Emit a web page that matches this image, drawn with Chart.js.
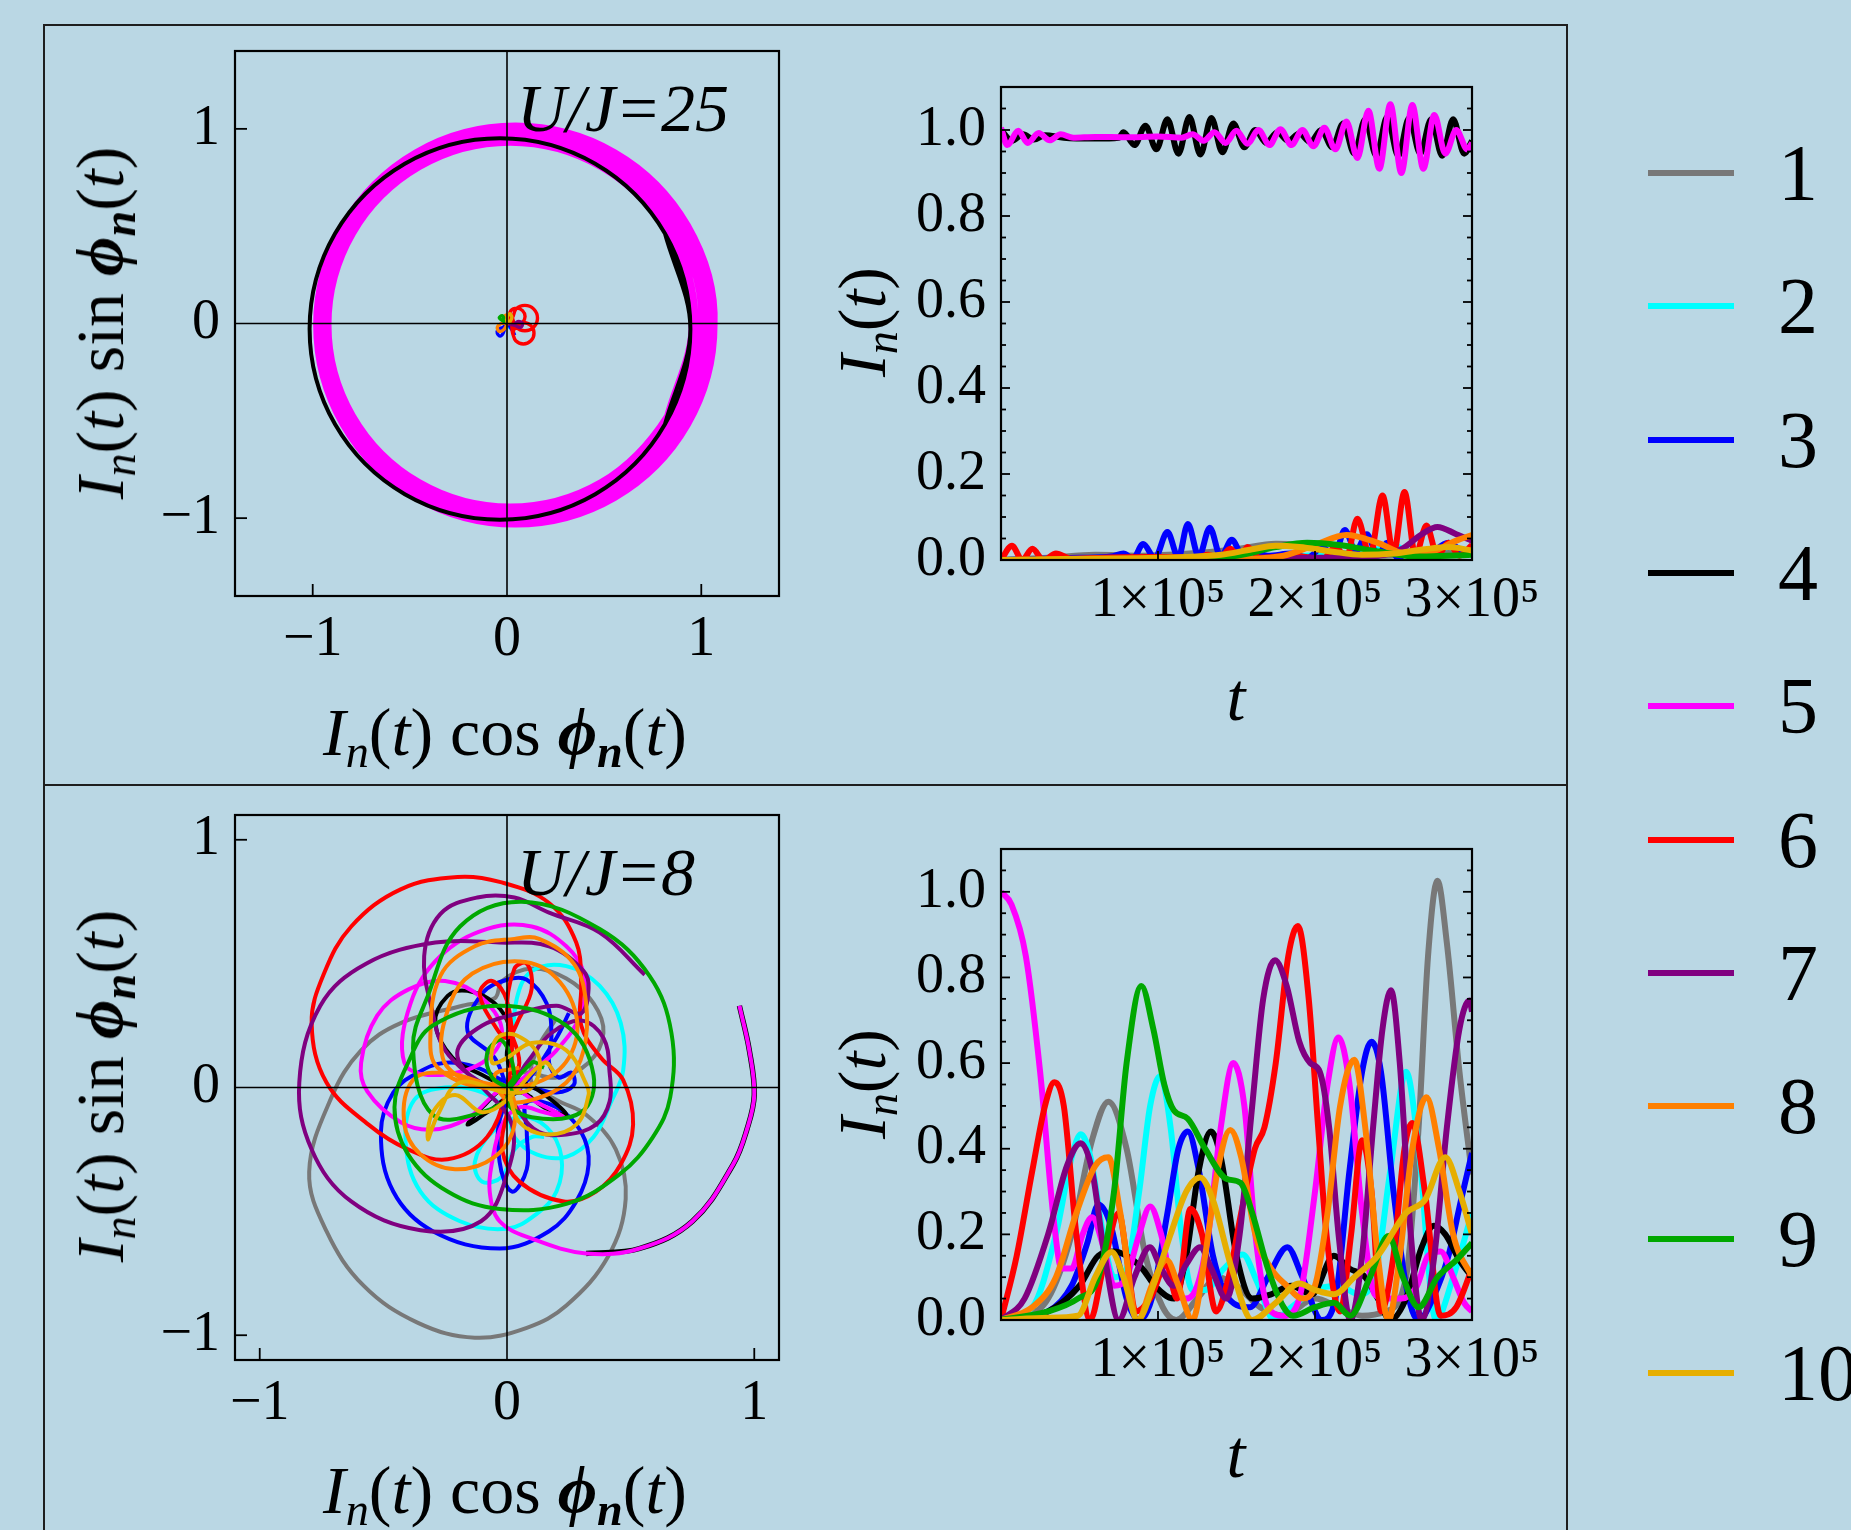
<!DOCTYPE html>
<html>
<head>
<meta charset="utf-8">
<script src="https://cdn.jsdelivr.net/npm/chart.js@4.4.1/dist/chart.umd.min.js"></script>
<style>
  html, body { margin: 0; padding: 0; }
  body {
    width: 1851px; height: 1530px; overflow: hidden; position: relative;
    background: #bad7e4; font-family: "Liberation Serif", "DejaVu Serif", serif; color: #000;
  }
  canvas { position: absolute; }
  .rule { position: absolute; background: #1e1e1e; }
  .ttl { position: absolute; white-space: nowrap; font-size: 68px; line-height: 1; transform: translate(-50%, -50%); }
  .ttl.rot { transform: translate(-50%, -50%) rotate(-90deg); }
  .ttl sub { font-size: 0.68em; vertical-align: -0.25em; line-height: 0; }
  .note { position: absolute; white-space: nowrap; font-style: italic; font-size: 68px; line-height: 1; transform: translateY(-50%); }
  .leg-line { position: absolute; left: 1648px; width: 86px; height: 6px; }
  .leg-txt { position: absolute; left: 1778px; font-size: 80px; line-height: 1; transform: translateY(-50%); }
</style>
</head>
<body>
<div class="rule" style="left:43px;top:24px;width:1525px;height:2px"></div>
<div class="rule" style="left:43px;top:24px;width:2px;height:1506px"></div>
<div class="rule" style="left:1566px;top:24px;width:2px;height:1506px"></div>
<div class="rule" style="left:43px;top:784px;width:1525px;height:2px"></div>

<canvas id="phase25"></canvas>
<canvas id="time25"></canvas>
<canvas id="phase8"></canvas>
<canvas id="time8"></canvas>

<div class="ttl rot" style="left:100px;top:323px"><i>I</i><sub><i>n</i></sub>(<i>t</i>) sin <b><i>ϕ</i></b><sub><b><i>n</i></b></sub>(<i>t</i>)</div>
<div class="ttl" style="left:505px;top:732px"><i>I</i><sub><i>n</i></sub>(<i>t</i>) cos <b><i>ϕ</i></b><sub><b><i>n</i></b></sub>(<i>t</i>)</div>
<div class="ttl rot" style="left:862px;top:322px"><i>I</i><sub><i>n</i></sub>(<i>t</i>)</div>
<div class="ttl" style="left:1236px;top:697px"><i>t</i></div>
<div class="ttl rot" style="left:100px;top:1086px"><i>I</i><sub><i>n</i></sub>(<i>t</i>) sin <b><i>ϕ</i></b><sub><b><i>n</i></b></sub>(<i>t</i>)</div>
<div class="ttl" style="left:505px;top:1490px"><i>I</i><sub><i>n</i></sub>(<i>t</i>) cos <b><i>ϕ</i></b><sub><b><i>n</i></b></sub>(<i>t</i>)</div>
<div class="ttl rot" style="left:862px;top:1084px"><i>I</i><sub><i>n</i></sub>(<i>t</i>)</div>
<div class="ttl" style="left:1236px;top:1454px"><i>t</i></div>
<div class="note" style="left:517px;top:108px">U/J=25</div>
<div class="note" style="left:517px;top:872px">U/J=8</div>

<div id="legend"></div>

<script>
// series names and colours (sites 1..10)
const siteLabels = ["1", "2", "3", "4", "5", "6", "7", "8", "9", "10"];
const siteColors = ["#787878", "#00ffff", "#0000ff", "#000000", "#ff00ff", "#ff0000", "#800080", "#ff8000", "#00a800", "#e6ae00"];

// tick values
const phase25Ticks = [-1, 0, 1];
const phase8Ticks = [-1, 0, 1];
const timeTicks = [100000, 200000, 300000];
const intensityTicks = [0, 0.2, 0.4, 0.6, 0.8, 1.0];
const intensityMinor = [0.05, 0.1, 0.15, 0.25, 0.3, 0.35, 0.45, 0.5, 0.55, 0.65, 0.7, 0.75, 0.85, 0.9, 0.95, 1.05];

// ---- U/J = 25 : I_n(t), [t, I] ----
const i25_1 = [[0,0],[30000,0.005],[60000,0.012],[90000,0.01],[120000,0.015],[150000,0.025],[175000,0.038],[190000,0.035],[210000,0.02],[240000,0.01],[270000,0.015],[300000,0.02]];
const i25_2 = [[0,0],[100000,0.003],[180000,0.008],[220000,0.015],[240000,0.025],[250000,0.035],[258000,0.02],[270000,0.01],[285000,0.03],[300000,0.02]];
const i25_3 = [[0,0],[50000,0.005],[70000,0.008],[78000,0.015],[84000,0.003],[90500,0.037],[98000,0.005],[106000,0.065],[113000,0.006],[119000,0.084],[126000,0.008],[133000,0.075],[140000,0.008],[147000,0.047],[154000,0.01],[160000,0.02],[170000,0.01],[185000,0.015],[195000,0.005],[205000,0.03],[212000,0.005],[219000,0.07],[226000,0.02],[233000,0.06],[240000,0.01],[246000,0.04],[253000,0.005],[260000,0.02],[270000,0.01],[285000,0.04],[295000,0.02],[300000,0.03]];
const i25_4 = [[0,1.0],[7000,0.975],[14000,0.99],[21000,0.978],[28000,0.988],[40000,0.982],[60000,0.98],[75000,0.982],[78000,0.995],[85000,0.965],[92000,1.01],[99000,0.955],[106000,1.025],[113000,0.945],[120000,1.03],[127000,0.943],[134000,1.028],[141000,0.948],[148000,1.015],[155000,0.96],[162000,1.0],[169000,0.97],[176000,0.995],[183000,0.975],[190000,0.992],[197000,0.972],[204000,1.0],[211000,0.96],[218000,1.015],[225000,0.945],[232000,1.025],[239000,0.94],[246000,1.03],[253000,0.94],[260000,1.028],[267000,0.945],[274000,1.025],[281000,0.94],[288000,1.025],[295000,0.945],[300000,0.975]];
const i25_5 = [[0,1.005],[4000,0.965],[11000,0.998],[17000,0.97],[24000,0.993],[31000,0.976],[38000,0.99],[46000,0.982],[60000,0.984],[80000,0.983],[100000,0.985],[115000,0.982],[122000,0.99],[129000,0.975],[136000,0.995],[143000,0.97],[150000,0.998],[157000,0.968],[164000,1.0],[171000,0.965],[178000,1.002],[185000,0.965],[192000,1.0],[199000,0.962],[206000,1.005],[213000,0.955],[220000,1.02],[227000,0.935],[234000,1.045],[241000,0.91],[248000,1.06],[255000,0.9],[262000,1.058],[269000,0.91],[276000,1.035],[283000,0.945],[290000,1.0],[297000,0.955],[300000,0.97]];
const i25_6 = [[0,0],[7000,0.033],[13500,0.0],[20000,0.026],[27000,0.0],[35000,0.015],[45000,0.003],[70000,0.006],[100000,0.007],[125000,0.006],[132000,0.012],[139000,0.003],[146000,0.026],[152000,0.005],[157000,0.03],[165000,0.005],[185000,0.01],[205000,0.003],[213000,0.03],[220000,0.005],[227000,0.096],[235000,0.01],[243000,0.15],[250000,0.015],[257000,0.158],[264000,0.01],[271000,0.08],[278000,0.01],[285000,0.04],[292000,0.01],[300000,0.035]];
const i25_7 = [[0,0],[150000,0.002],[200000,0.005],[240000,0.01],[255000,0.025],[268000,0.06],[278000,0.077],[290000,0.06],[300000,0.045]];
const i25_8 = [[0,0],[150000,0.002],[180000,0.01],[200000,0.035],[220000,0.058],[240000,0.04],[258000,0.015],[275000,0.02],[290000,0.045],[300000,0.058]];
const i25_9 = [[0,0],[100000,0.002],[150000,0.01],[175000,0.03],[195000,0.04],[215000,0.035],[240000,0.02],[265000,0.008],[285000,0.01],[300000,0.012]];
const i25_10 = [[0,0],[50000,0.003],[100000,0.005],[140000,0.012],[160000,0.025],[175000,0.033],[190000,0.03],[210000,0.02],[230000,0.012],[250000,0.015],[270000,0.025],[285000,0.03],[300000,0.022]];

// ---- U/J = 8 : I_n(t), [t, I] ----
const i8_1 = [[0,0],[15000,0.01],[30000,0.05],[45000,0.2],[58000,0.42],[68400,0.51],[80000,0.4],[92000,0.15],[103000,0.03],[111600,0.0],[125000,0.05],[138000,0.1],[150000,0.08],[165000,0.03],[180000,0.01],[200000,0.05],[215000,0.03],[230000,0.01],[245000,0.02],[258000,0.1],[266000,0.45],[272000,0.85],[278000,1.026],[284000,0.88],[292000,0.58],[300000,0.34]];
const i8_2 = [[0,0],[20000,0.03],[35000,0.2],[45000,0.38],[50800,0.434],[57000,0.38],[65000,0.2],[72000,0.1],[80000,0.12],[88000,0.3],[95000,0.5],[101500,0.57],[108000,0.45],[115000,0.2],[122000,0.07],[130000,0.07],[142000,0.12],[154000,0.153],[163000,0.09],[174000,0.0],[185000,0.03],[200000,0.07],[215000,0.08],[228000,0.06],[238000,0.1],[248000,0.35],[258000,0.58],[266000,0.4],[277000,0.0],[288000,0.1],[300000,0.25]];
const i8_3 = [[0,0],[30000,0.02],[45000,0.08],[55000,0.18],[62000,0.27],[70000,0.22],[80000,0.05],[88000,0.0],[96000,0.05],[106000,0.25],[113000,0.4],[119000,0.44],[126000,0.35],[135000,0.15],[145000,0.05],[158700,0.03],[170000,0.1],[182400,0.17],[192000,0.1],[204300,0.0],[213000,0.05],[222000,0.35],[230000,0.58],[236000,0.65],[242000,0.58],[250000,0.3],[258000,0.08],[266000,0.0],[275000,0.05],[285000,0.15],[293000,0.28],[300000,0.39]];
const i8_4 = [[0,0],[30000,0.02],[50000,0.08],[62000,0.15],[72000,0.16],[80000,0.15],[90000,0.12],[98000,0.08],[110000,0.05],[118000,0.15],[126000,0.35],[133700,0.44],[140000,0.38],[150000,0.15],[160000,0.05],[172000,0.06],[185000,0.08],[198000,0.06],[212000,0.15],[222000,0.12],[232000,0.1],[240000,0.05],[248000,0.0],[258000,0.05],[268000,0.17],[275700,0.22],[283000,0.2],[292000,0.14],[300000,0.1]];
const i8_5 = [[0,1.0],[6700,0.97],[15800,0.85],[24900,0.58],[34000,0.22],[38600,0.12],[45000,0.12],[52000,0.2],[58000,0.24],[66000,0.16],[72000,0.08],[80000,0.1],[88000,0.2],[95000,0.265],[102000,0.2],[110000,0.07],[118000,0.05],[125000,0.08],[132000,0.2],[140000,0.45],[148000,0.6],[155000,0.5],[162000,0.2],[170000,0.03],[180000,0.01],[190000,0.05],[200000,0.3],[208000,0.55],[215000,0.66],[222000,0.55],[230000,0.25],[238000,0.06],[245000,0.05],[255000,0.05],[265000,0.08],[272000,0.15],[280000,0.16],[288000,0.1],[295000,0.04],[300000,0.02]];
const i8_6 = [[0,0],[10000,0.15],[20000,0.35],[28000,0.5],[34000,0.555],[40000,0.5],[48000,0.2],[56800,0.0],[65000,0.12],[75000,0.25],[80000,0.15],[85700,0.02],[95000,0.05],[105500,0.13],[112000,0.05],[120700,0.26],[128000,0.2],[137000,0.02],[145000,0.1],[153000,0.25],[161700,0.4],[167800,0.45],[175000,0.6],[183000,0.85],[189100,0.92],[196000,0.75],[202000,0.45],[207300,0.2],[216000,0.02],[223000,0.2],[230000,0.42],[236000,0.3],[242000,0.02],[250000,0.15],[257000,0.4],[262000,0.46],[270000,0.3],[280000,0.01],[290000,0.03],[300000,0.12]];
const i8_7 = [[0,0],[15000,0.05],[30000,0.2],[42000,0.36],[50800,0.413],[58000,0.35],[66000,0.15],[75000,0.0],[85000,0.1],[94800,0.17],[102000,0.12],[110000,0.08],[118000,0.13],[126800,0.17],[134000,0.12],[143500,0.05],[152000,0.2],[160000,0.5],[167000,0.75],[174500,0.84],[182000,0.78],[190000,0.65],[197000,0.6],[203000,0.58],[209000,0.45],[215000,0.2],[222500,0.0],[230000,0.15],[237000,0.45],[243000,0.68],[248400,0.77],[254000,0.6],[261000,0.2],[268000,0.0],[276000,0.15],[284000,0.45],[292000,0.68],[298500,0.746],[300000,0.72]];
const i8_8 = [[0,0],[20000,0.03],[35000,0.1],[48000,0.25],[60000,0.36],[68400,0.38],[76000,0.25],[87200,0.0],[96000,0.08],[105500,0.14],[113000,0.08],[122000,0.0],[130000,0.15],[138000,0.35],[146000,0.444],[153000,0.38],[162000,0.2],[172000,0.12],[182000,0.08],[192000,0.05],[200000,0.08],[208000,0.25],[216000,0.5],[225000,0.608],[232000,0.45],[240000,0.15],[246800,0.0],[254000,0.15],[262000,0.4],[271000,0.52],[279000,0.4],[288000,0.2],[300000,0.1]];
const i8_9 = [[0,0],[30000,0.02],[49000,0.05],[62000,0.1],[72000,0.3],[80000,0.6],[89400,0.78],[97000,0.68],[104000,0.55],[110000,0.49],[119000,0.47],[130000,0.4],[143500,0.33],[152600,0.32],[160000,0.25],[170000,0.12],[180000,0.03],[186000,0.01],[200000,0.03],[212000,0.04],[222500,0.01],[235000,0.1],[246800,0.196],[256000,0.1],[266000,0.03],[278000,0.1],[290000,0.14],[300000,0.18]];
const i8_10 = [[0,0],[30000,0.005],[49000,0.01],[60000,0.1],[70500,0.159],[78000,0.1],[87000,0.0],[97000,0.08],[108000,0.2],[118000,0.3],[126800,0.333],[135000,0.28],[147000,0.12],[160000,0.0],[175000,0.04],[190000,0.085],[200000,0.07],[212000,0.06],[225000,0.1],[240000,0.15],[258000,0.25],[270000,0.28],[283000,0.38],[292000,0.3],[300000,0.2]];

// ---- U/J = 25 : phase plane, [I cos phi, I sin phi] ----
const ph25_1 = [[0,0],[0.01,0.01],[0.02,-0.01]];
const ph25_2 = [[0,0],[0.01,-0.02],[0.02,-0.01]];
const ph25_3 = [[0,0],[-0.02,-0.02],[-0.045,-0.03],[-0.05,-0.05],[-0.035,-0.065],[-0.02,-0.05],[-0.01,-0.02],[0,0],[0.03,-0.04],[0.04,-0.06]];
const ph25_4 = [[0.813,-0.518],[0.944,-0.028],[0.813,0.462],[0.454,0.821],[-0.036,0.952],[-0.526,0.821],[-0.885,0.462],[-1.016,-0.028],[-0.885,-0.518],[-0.526,-0.877],[-0.036,-1.008],[0.454,-0.877],[0.813,-0.518],[0.944,-0.028],[0.813,0.462]];
const ph25_5 = [[0.834,-0.4785],[0.961,-0.006],[0.834,0.4665],[0.4885,0.812],[0.016,0.939],[-0.4565,0.812],[-0.802,0.4665],[-0.929,-0.006],[-0.802,-0.4785],[-0.4565,-0.824],[0.016,-0.951],[0.4885,-0.824],[0.834,-0.4785],
  [1.01,-0.007],[0.879,0.483],[0.52,0.842],[0.03,0.973],[-0.46,0.842],[-0.819,0.483],[-0.95,-0.007],[-0.819,-0.497],[-0.46,-0.856],[0.03,-0.987],[0.52,-0.856],[0.879,-0.497],
  [1.058,-0.008],[0.922,0.4995],[0.5505,0.871],[0.043,1.007],[-0.4645,0.871],[-0.836,0.4995],[-0.972,-0.008],[-0.836,-0.5155],[-0.4645,-0.887],[0.043,-1.023],[0.5505,-0.887],[0.922,-0.5155],[1.058,-0.008],[0.922,0.4995]];
const ph25_6 = [[0,0],[0.01,0.03],[0.02,0.066],[0.05,0.079],[0.08,0.066],[0.093,0.036],[0.08,0.006],[0.05,-0.007],[0.02,0.006],[0.007,0.036],
  [0.027,0.028],[0.046,0.074],[0.092,0.093],[0.138,0.074],[0.157,0.028],[0.138,-0.018],[0.092,-0.037],[0.046,-0.018],[0.027,0.028],
  [0.029,-0.05],[0.045,-0.011],[0.084,0.005],[0.123,-0.011],[0.139,-0.05],[0.123,-0.089],[0.084,-0.105],[0.045,-0.089],[0.029,-0.05]];
const ph25_7 = [[0,0],[0.04,-0.01],[0.07,-0.02],[0.08,0],[0.06,0.01],[0.04,0]];
const ph25_8 = [[0,0],[-0.03,0],[-0.05,-0.02],[-0.04,-0.04],[-0.015,-0.03],[0,0],[0,0.03],[-0.01,0.05]];
const ph25_9 = [[0,0],[-0.03,0.02],[-0.04,0.03],[-0.025,0.04],[-0.01,0.02]];
const ph25_10 = [[0,0],[0,0.03],[0.015,0.05],[0.025,0.03],[0.01,0]];

// ---- U/J = 8 : phase plane ----
const ph8_1 = [[0,0],[0.06,0.06],[0.2,0.04],[0.33,0.1],[0.39,0.22],[0.35,0.34],[0.24,0.44],[0.1,0.48],[-0.02,0.43],[-0.05,0.36],[-0.18,0.33],[-0.43,0.26],[-0.59,0.15],[-0.71,-0.04],[-0.8,-0.34],[-0.73,-0.58],[-0.58,-0.8],[-0.36,-0.95],[-0.13,-1.01],[0.08,-0.97],[0.24,-0.88],[0.41,-0.68],[0.48,-0.45],[0.44,-0.25],[0.32,-0.11],[0.2,-0.05],[0.1,0.02],[0.12,0.15],[0.2,0.28]];
const ph8_2 = [[0,0],[0.02,0.15],[0.04,0.36],[0.1,0.47],[0.24,0.49],[0.375,0.41],[0.46,0.26],[0.47,0.07],[0.42,-0.06],[0.35,-0.2],[0.24,-0.28],[0.12,-0.27],[0.03,-0.2],[0,-0.1],[-0.1,-0.02],[-0.25,0],[-0.375,-0.05],[-0.41,-0.22],[-0.35,-0.42],[-0.19,-0.54],[0,-0.57],[0.12,-0.51],[0.2,-0.42],[0.22,-0.28],[0.16,-0.16],[0.05,-0.12],[-0.06,-0.18],[-0.13,-0.3],[-0.1,-0.38],[-0.02,-0.36],[0.03,-0.25],[0.1,-0.2],[0.15,-0.2]];
const ph8_3 = [[0,0],[-0.05,0.12],[-0.16,0.23],[-0.1,0.38],[0,0.435],[0.08,0.435],[0.16,0.34],[0.18,0.22],[0.17,0.1],[0.21,0.04],[0.26,0.06],[0.27,0.01],[0.2,-0.02],[0.1,0],[0,0.02],[-0.12,0.08],[-0.25,0.1],[-0.36,0.06],[-0.46,-0.02],[-0.51,-0.18],[-0.46,-0.42],[-0.3,-0.58],[-0.03,-0.65],[0.17,-0.58],[0.28,-0.46],[0.33,-0.31],[0.3,-0.18],[0.2,-0.08],[0.08,-0.06],[0.08,-0.18],[0.08,-0.33],[0.02,-0.42],[-0.03,-0.3],[-0.02,-0.1],[0.1,0.05],[0.2,0.2],[0.25,0.3]];
const ph8_4 = [[0,0],[-0.1,0.05],[-0.22,0.12],[-0.29,0.26],[-0.24,0.37],[-0.16,0.39],[-0.05,0.34],[0.01,0.24],[0,0.12],[0.04,0.04],[0.14,-0.02],[0.24,-0.11],[0.15,-0.08],[0.05,-0.02],[-0.08,-0.1],[-0.16,-0.15],[-0.1,-0.08],[0,0],[0.1,-0.04]];
const ph8_5 = [[0.94,0.33],[0.98,0.15],[1.0,-0.03],[0.97,-0.17],[0.915,-0.31],[0.75,-0.54],[0.536,-0.65],[0.32,-0.67],[0.1,-0.61],[-0.03,-0.54],[-0.07,-0.42],[-0.06,-0.3],[-0.02,-0.15],[0.05,-0.08],[0.15,-0.1],[0.23,-0.12],[0.12,-0.06],[0,0],[-0.16,-0.125],[-0.3,-0.17],[-0.43,-0.14],[-0.565,-0.016],[-0.59,0.1],[-0.525,0.29],[-0.4,0.395],[-0.25,0.43],[-0.1,0.36],[-0.02,0.22],[-0.1,0.1],[-0.3,0.05],[-0.415,0.1],[-0.39,0.34],[-0.27,0.53],[-0.08,0.64],[0.1,0.65],[0.24,0.57],[0.31,0.46],[0.3,0.3],[0.2,0.15],[0.08,0.05],[0.02,0]];
const ph8_6 = [[0,0],[0.05,0.1],[0,0.29],[0.03,0.48],[0.08,0.5],[0.1,0.4],[0.05,0.28],[0,0.2],[-0.05,0.25],[-0.11,0.38],[-0.06,0.43],[0,0.35],[0.02,0.15],[0,0],[-0.08,-0.2],[-0.24,-0.29],[-0.4,-0.25],[-0.56,-0.15],[-0.73,0.02],[-0.79,0.26],[-0.74,0.46],[-0.63,0.65],[-0.43,0.8],[-0.2,0.85],[-0.03,0.83],[0.17,0.745],[0.28,0.585],[0.3,0.42],[0.3,0.25],[0.38,0.12],[0.47,0.03],[0.51,-0.15],[0.46,-0.31],[0.36,-0.42],[0.23,-0.46],[0.05,-0.38],[-0.02,-0.25],[0,-0.1]];
const ph8_7 = [[0,0],[0.05,-0.1],[0.13,-0.18],[0.24,-0.19],[0.36,-0.15],[0.415,-0.057],[0.415,0.06],[0.39,0.2],[0.3,0.27],[0.18,0.22],[0.08,0.1],[0,0],[-0.15,0.05],[-0.2,0.15],[-0.1,0.25],[0.05,0.3],[0.2,0.33],[0.3,0.3],[0.33,0.4],[0.31,0.47],[0.17,0.57],[-0.03,0.585],[-0.29,0.585],[-0.57,0.5],[-0.755,0.33],[-0.84,0.02],[-0.79,-0.25],[-0.63,-0.46],[-0.35,-0.576],[-0.105,-0.54],[0,-0.35],[0.02,-0.15],[-0.1,0],[-0.25,0.15],[-0.3,0.3],[-0.335,0.53],[-0.27,0.7],[-0.12,0.767],[0.03,0.767],[0.17,0.706],[0.375,0.625],[0.557,0.455]];
const ph8_8 = [[0,0],[-0.1,0.02],[-0.25,0.06],[-0.38,0.03],[-0.416,-0.14],[-0.35,-0.27],[-0.21,-0.33],[-0.05,-0.28],[0.03,-0.15],[0,0],[-0.15,0.02],[-0.26,0.12],[-0.23,0.34],[-0.14,0.46],[0.03,0.51],[0.18,0.46],[0.28,0.29],[0.25,0.12],[0.12,0.02],[-0.1,0],[-0.28,0.08],[-0.31,0.2],[-0.27,0.45],[-0.13,0.57],[0.03,0.6],[0.13,0.6],[0.27,0.5],[0.32,0.34],[0.31,0.15],[0.24,0.02],[0.1,-0.05],[0,-0.05],[-0.05,0.05],[0.05,0.08]];
const ph8_9 = [[0,0],[0.03,0.05],[-0.02,0.19],[-0.08,0.14],[-0.06,0.04],[0.02,-0.02],[-0.1,-0.1],[-0.3,-0.11],[-0.38,0.16],[-0.32,0.37],[-0.19,0.65],[0.06,0.75],[0.375,0.64],[0.577,0.45],[0.665,0.22],[0.66,-0.04],[0.59,-0.2],[0.456,-0.35],[0.24,-0.47],[-0.03,-0.49],[-0.24,-0.42],[-0.4,-0.27],[-0.455,-0.08],[-0.4,0.1],[-0.3,0.25],[-0.03,0.33],[0.24,0.25],[0.35,0.05],[0.3,-0.1],[0.1,-0.12],[0,-0.05],[0.1,0.1],[0.15,0.08]];
const ph8_10 = [[0,0],[0.01,-0.03],[0.05,-0.14],[0.16,-0.19],[0.28,-0.15],[0.33,-0.03],[0.32,0.015],[0.24,0.15],[0.1,0.18],[0,0.12],[-0.06,0.1],[-0.04,0.2],[0.04,0.21],[0.13,0.12],[0.1,0],[0,-0.02],[-0.19,0.02],[-0.28,-0.11],[-0.32,-0.21],[-0.3,-0.1],[-0.21,-0.03],[-0.1,-0.1],[0,-0.05],[0.15,0.1],[0.2,0.05]];

const i25 = [i25_1, i25_2, i25_3, i25_4, i25_5, i25_6, i25_7, i25_8, i25_9, i25_10];
const i8 = [i8_1, i8_2, i8_3, i8_4, i8_5, i8_6, i8_7, i8_8, i8_9, i8_10];
const ph25 = [ph25_1, ph25_2, ph25_3, ph25_4, ph25_5, ph25_6, ph25_7, ph25_8, ph25_9, ph25_10];
const ph8 = [ph8_1, ph8_2, ph8_3, ph8_4, ph8_5, ph8_6, ph8_7, ph8_8, ph8_9, ph8_10];

const tickFont = { family: "Liberation Serif", size: 56 };

function minus(v) {
  return v < 0 ? "\u2212" + Math.abs(v) : String(v);
}

function sci(v) {
  return (v / 100000) + "\u00d710\u2075";
}

// frame, crosshair and inward tick marks, drawn with the chart's own scales
const decoPlugin = {
  id: "deco",
  afterDatasetsDraw(chart, args, o) {
    const { ctx, chartArea: a, scales } = chart;
    const x = scales.x, y = scales.y;
    const seg = (x0, y0, x1, y1) => { ctx.beginPath(); ctx.moveTo(x0, y0); ctx.lineTo(x1, y1); ctx.stroke(); };
    ctx.save();
    ctx.strokeStyle = "#000";
    if (o.cross) {
      ctx.lineWidth = 1.6;
      const x0 = x.getPixelForValue(0), y0 = y.getPixelForValue(0);
      seg(x0, a.top, x0, a.bottom);
      seg(a.left, y0, a.right, y0);
    }
    ctx.lineWidth = 1.8;
    o.xTicks.forEach((v) => {
      const px = x.getPixelForValue(v);
      seg(px, a.bottom, px, a.bottom - o.len);
    });
    o.yTicks.forEach((v) => {
      const py = y.getPixelForValue(v);
      seg(a.left, py, a.left + o.len, py);
      if (o.right) seg(a.right, py, a.right - o.len, py);
    });
    (o.yMinor || []).forEach((v) => {
      const py = y.getPixelForValue(v);
      seg(a.left, py, a.left + o.minorLen, py);
      seg(a.right, py, a.right - o.minorLen, py);
    });
    ctx.lineWidth = 2.2;
    ctx.strokeRect(a.left, a.top, a.right - a.left, a.bottom - a.top);
    ctx.restore();
  },
};

function makeChart(id, box, pad, xs, ys, datasets, deco) {
  const canvas = document.getElementById(id);
  canvas.width = box.x1 - box.x0 + pad.left + pad.right;
  canvas.height = box.y1 - box.y0 + pad.top + pad.bottom;
  canvas.style.left = (box.x0 - pad.left) + "px";
  canvas.style.top = (box.y0 - pad.top) + "px";

  const axis = (s, isX) => ({
    type: "linear",
    min: s.min,
    max: s.max,
    grid: { display: false, drawTicks: false },
    border: { display: false },
    ticks: {
      font: tickFont,
      color: "#000",
      padding: isX ? s.padding : 15,
      autoSkip: false,
      maxRotation: 0,
      callback: s.fmt,
    },
    afterBuildTicks: (scale) => { scale.ticks = s.ticks.map((v) => ({ value: v })); },
    afterFit: (scale) => {
      if (isX) scale.height = pad.bottom;
      else scale.width = pad.left;
      // keep the plot box exactly where the figure has it
      scale.paddingTop = 0;
      scale.paddingBottom = 0;
      scale.paddingLeft = 0;
      scale.paddingRight = 0;
    },
  });

  return new Chart(canvas, {
    type: "line",
    data: { datasets },
    options: {
      responsive: false,
      animation: false,
      devicePixelRatio: 1,
      layout: { padding: { top: pad.top, right: pad.right, left: 0, bottom: 0 } },
      elements: { point: { radius: 0 } },
      plugins: { legend: { display: false }, tooltip: { enabled: false }, deco },
      scales: { x: axis(xs, true), y: axis(ys, false) },
    },
    plugins: [decoPlugin],
  });
}

function toXY(arr) {
  return arr.map((p) => ({ x: p[0], y: p[1] }));
}

function lineSet(arr, i, width, extra) {
  return Object.assign({
    data: toXY(arr),
    borderColor: siteColors[i],
    borderWidth: width,
    pointRadius: 0,
    fill: false,
    tension: 0.38,
    order: 10 - i,
  }, extra || {});
}

const phasePad = { left: 125, top: 31, right: 51, bottom: 124 };
const timePad = { left: 125, top: 31, right: 100, bottom: 124 };

// U/J = 25, phase plane
const phase25Sets = ph25.map((arr, i) => lineSet(arr, i, i === 4 ? 10 : i === 3 ? 4 : 3.4, { tension: 0.35 }));
phase25Sets[3].order = 0;
makeChart("phase25", { x0: 235, y0: 51, x1: 779, y1: 596 }, phasePad,
  { min: -1.4, max: 1.4, ticks: phase25Ticks, fmt: minus, padding: 11 },
  { min: -1.4, max: 1.4, ticks: phase25Ticks, fmt: minus },
  phase25Sets,
  { cross: true, xTicks: [-1, 1], yTicks: [-1, 1], len: 12 });

// U/J = 25, I_n(t)
makeChart("time25", { x0: 1001, y0: 87, x1: 1472, y1: 560 }, timePad,
  { min: 0, max: 300000, ticks: timeTicks, fmt: sci, padding: 8 },
  { min: 0, max: 1.1, ticks: intensityTicks, fmt: (v) => v.toFixed(1) },
  i25.map((arr, i) => lineSet(arr, i, 6, { cubicInterpolationMode: "monotone" })),
  { xTicks: [100000, 200000], yTicks: intensityTicks.slice(1), right: true, len: 9, yMinor: intensityMinor, minorLen: 5 });

// U/J = 8, phase plane; the first arc of site 5 carries a thin dark edge in the figure
const phase8Sets = ph8.map((arr, i) => lineSet(arr, i, 4));
phase8Sets.push({
  data: toXY(ph8_5.slice(0, 8)),
  borderColor: "#000",
  borderWidth: 5.4,
  pointRadius: 0,
  fill: false,
  tension: 0.38,
  order: 6.5,
});
makeChart("phase8", { x0: 235, y0: 815, x1: 779, y1: 1360 }, phasePad,
  { min: -1.1, max: 1.1, ticks: phase8Ticks, fmt: minus, padding: 11 },
  { min: -1.1, max: 1.1, ticks: phase8Ticks, fmt: minus },
  phase8Sets,
  { cross: true, xTicks: [-1, 1], yTicks: [-1, 1], len: 12 });

// U/J = 8, I_n(t)
makeChart("time8", { x0: 1001, y0: 849, x1: 1472, y1: 1320 }, timePad,
  { min: 0, max: 300000, ticks: timeTicks, fmt: sci, padding: 8 },
  { min: 0, max: 1.1, ticks: intensityTicks, fmt: (v) => v.toFixed(1) },
  i8.map((arr, i) => lineSet(arr, i, 6, { cubicInterpolationMode: "monotone" })),
  { xTicks: [100000, 200000], yTicks: intensityTicks.slice(1), right: true, len: 9, yMinor: intensityMinor, minorLen: 5 });

// legend
const legendRoot = document.getElementById("legend");
siteLabels.forEach((label, i) => {
  const cy = 173 + i * 133.3;
  const bar = document.createElement("div");
  bar.className = "leg-line";
  bar.style.top = (cy - 3) + "px";
  bar.style.background = siteColors[i];
  const txt = document.createElement("div");
  txt.className = "leg-txt";
  txt.style.top = cy + "px";
  txt.textContent = label;
  legendRoot.appendChild(bar);
  legendRoot.appendChild(txt);
});
</script>
</body>
</html>
